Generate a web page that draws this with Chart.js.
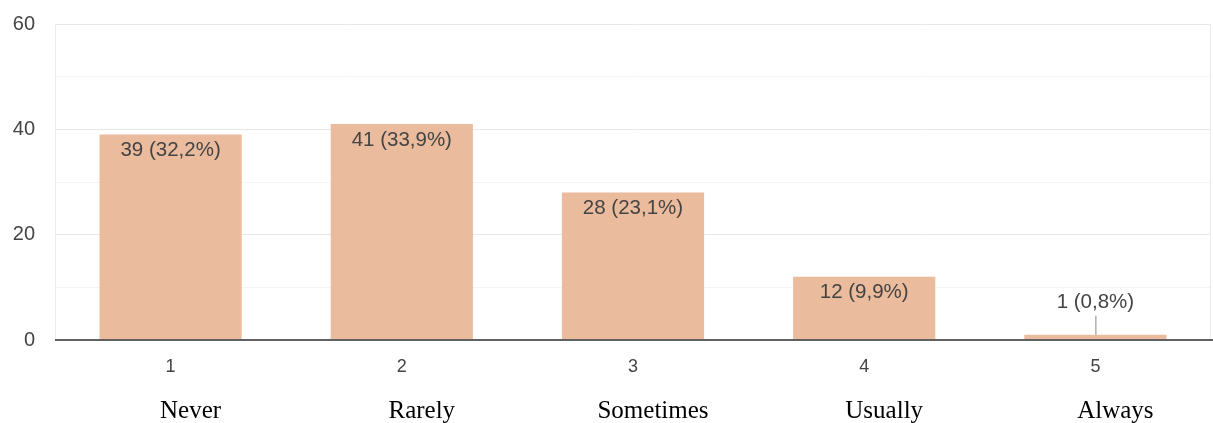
<!DOCTYPE html>
<html>
<head>
<meta charset="utf-8">
<script src="https://cdn.jsdelivr.net/npm/chart.js@4/dist/chart.umd.min.js"></script>
<style>
  html, body { margin: 0; padding: 0; background: #fff; }
  #wrap { width: 1213px; height: 423px; position: relative; }
</style>
</head>
<body>
<div id="wrap"><canvas id="chart"></canvas></div>
<script>
const scaleLabels = ['1', '2', '3', '4', '5'];
const answerNames = ['Never', 'Rarely', 'Sometimes', 'Usually', 'Always'];
const counts = [39, 41, 28, 12, 1];
const yTicks = [0, 20, 40, 60];

const total = counts.reduce((a, b) => a + b, 0);
const pctText = v => (v / total * 100).toFixed(1).replace('.', ',');

// value labels: inside the bar top, or above with a small leader line if the bar is too short
const barLabels = {
    id: 'barLabels',
    afterDatasetsDraw(chart) {
        const ctx = chart.ctx;
        const meta = chart.getDatasetMeta(0);
        const area = chart.chartArea;
        ctx.save();
        // frame + x axis line
        ctx.strokeStyle = '#ececec';
        ctx.lineWidth = 1;
        ctx.beginPath();
        ctx.moveTo(area.right - 0.5, area.top);
        ctx.lineTo(area.right - 0.5, area.bottom);
        ctx.stroke();
        ctx.strokeStyle = '#616161';
        ctx.lineWidth = 2;
        ctx.beginPath();
        ctx.moveTo(area.left, area.bottom);
        ctx.lineTo(area.right + 2, area.bottom);
        ctx.stroke();

        ctx.font = '20.5px "Liberation Sans", Arial, sans-serif';
        ctx.fillStyle = '#444';
        ctx.textAlign = 'center';
        ctx.textBaseline = 'middle';
        meta.data.forEach((bar, i) => {
            const v = counts[i];
            const txt = v + ' (' + pctText(v) + '%)';
            const h = bar.base - bar.y;
            if (h > 35) {
                ctx.fillText(txt, bar.x, bar.y + 16);
            } else {
                ctx.fillText(txt, bar.x, bar.y - 32);
                ctx.strokeStyle = '#888';
                ctx.lineWidth = 1;
                ctx.beginPath();
                ctx.moveTo(bar.x + 0.5, bar.y - 19);
                ctx.lineTo(bar.x + 0.5, bar.y);
                ctx.stroke();
            }
        });
        ctx.restore();
    }
};

const ctx = document.getElementById('chart').getContext('2d');
new Chart(ctx, {
    type: 'bar',
    data: {
        labels: scaleLabels,
        datasets: [{
            data: counts,
            backgroundColor: '#ebbb9d',
            borderWidth: 0,
            categoryPercentage: 1,
            barPercentage: 0.615
        }]
    },
    options: {
        responsive: true,
        maintainAspectRatio: false,
        animation: false,
        layout: { padding: { top: 24, right: 2, left: 0, bottom: 0 } },
        plugins: {
            legend: { display: false },
            tooltip: { enabled: false }
        },
        scales: {
            x: {
                grid: { display: false, drawTicks: false },
                border: { display: false },
                ticks: {
                    color: '#444',
                    font: { family: '"Liberation Sans", Arial, sans-serif', size: 18 },
                    padding: 16,
                    maxRotation: 0
                },
                afterFit: s => { s.height = 40; }
            },
            x2: {
                type: 'category',
                labels: answerNames,
                position: 'bottom',
                grid: { display: false, drawTicks: false },
                border: { display: false },
                ticks: {
                    color: '#000',
                    font: { family: '"Liberation Serif", "Times New Roman", serif', size: 25 },
                    padding: 16,
                    labelOffset: 20,
                    maxRotation: 0
                },
                afterFit: s => { s.height = 43; }
            },
            y: {
                min: 0,
                max: 60,
                ticks: {
                    stepSize: 10,
                    color: '#444',
                    padding: 20,
                    font: { family: '"Liberation Sans", Arial, sans-serif', size: 20 },
                    callback: v => yTicks.includes(v) ? String(v) : ''
                },
                grid: {
                    drawTicks: false,
                    color: c => (c.tick && yTicks.includes(c.tick.value)) ? '#e8e8e8' : '#f4f4f4',
                    lineWidth: 1
                },
                border: { display: true, color: '#ececec', width: 1 },
                afterFit: s => { s.width = 55; s.paddingTop = 0; s.paddingBottom = 0; }
            }
        }
    },
    plugins: [barLabels]
});
</script>
</body>
</html>
